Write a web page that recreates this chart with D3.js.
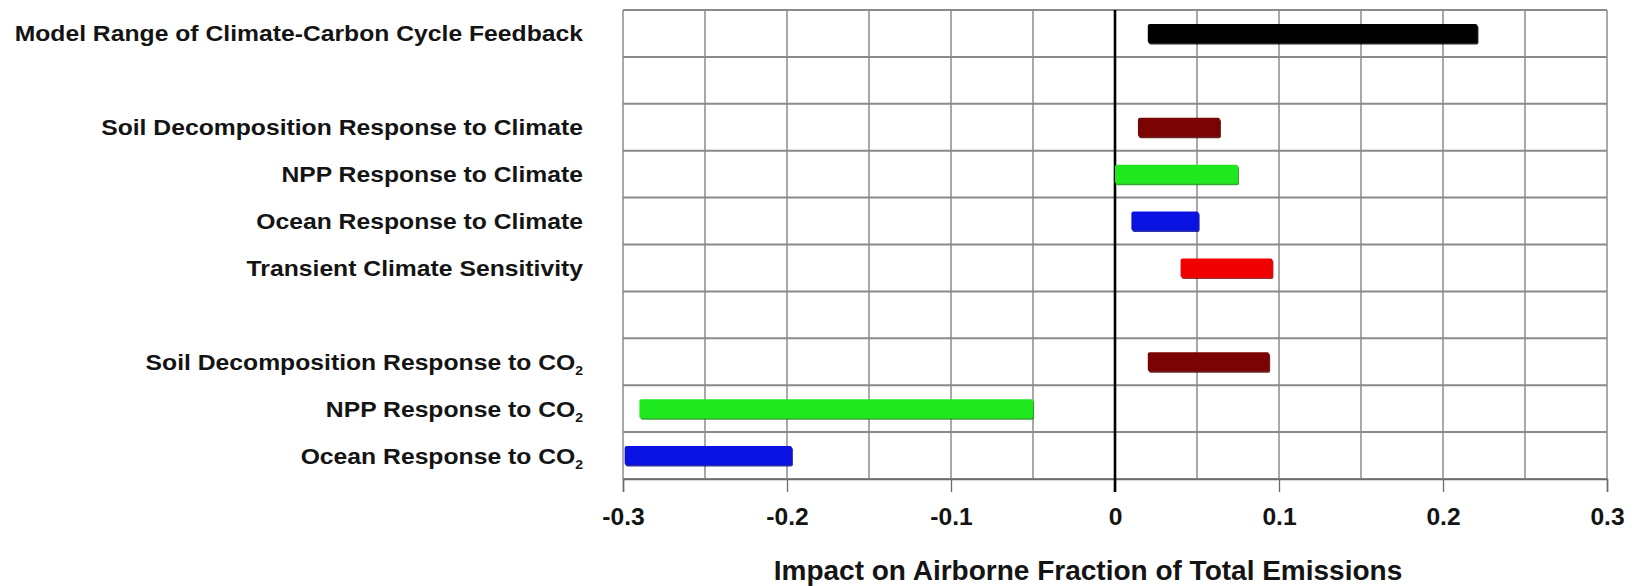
<!DOCTYPE html>
<html>
<head>
<meta charset="utf-8">
<script src="https://cdn.jsdelivr.net/npm/d3@7"></script>
<style>
  html, body { margin: 0; padding: 0; background: #fff; }
  svg { display: block; }
  text { font-family: "Liberation Sans", Arial, Helvetica, sans-serif; font-weight: bold; fill: #141414; }
</style>
</head>
<body>
<svg id="chart" width="1639" height="586"></svg>
<script>
// ---- data ----
const rowKeys = [
  "Model Range of Climate-Carbon Cycle Feedback",
  "gap1",
  "Soil Decomposition Response to Climate",
  "NPP Response to Climate",
  "Ocean Response to Climate",
  "Transient Climate Sensitivity",
  "gap2",
  "Soil Decomposition Response to CO2",
  "NPP Response to CO2",
  "Ocean Response to CO2"
];
const barCategories = [
  "Model Range of Climate-Carbon Cycle Feedback",
  "Soil Decomposition Response to Climate",
  "NPP Response to Climate",
  "Ocean Response to Climate",
  "Transient Climate Sensitivity",
  "Soil Decomposition Response to CO2",
  "NPP Response to CO2",
  "Ocean Response to CO2"
];
const lowValues  = [0.020, 0.014, 0.000, 0.010, 0.040, 0.020, -0.290, -0.299];
const highValues = [0.221, 0.064, 0.075, 0.051, 0.096, 0.094, -0.050, -0.197];
const barColors  = ["#000000", "#7a0303", "#1fe81f", "#0a12e2", "#f00000", "#7a0303", "#1fe81f", "#0a12e2"];
const tickValues = [-0.3, -0.2, -0.1, 0, 0.1, 0.2, 0.3];
const tickLabels = ["-0.3", "-0.2", "-0.1", "0", "0.1", "0.2", "0.3"];
const xTitle = "Impact on Airborne Fraction of Total Emissions";

// ---- layout ----
const svg = d3.select("#chart");
const plot = { left: 623, right: 1607, top: 10, bottom: 479 };

const x = d3.scaleLinear().domain([-0.3, 0.3]).range([plot.left, plot.right]);
const y = d3.scaleBand().domain(rowKeys).range([plot.top, plot.bottom]).paddingInner(0).paddingOuter(0);

// vertical grid lines every 0.05
const gridX = x.ticks(12);
svg.append("g").selectAll("line").data(gridX).join("line")
  .attr("x1", d => x(d)).attr("x2", d => x(d))
  .attr("y1", plot.top).attr("y2", plot.bottom)
  .attr("stroke", "#7a7a7a").attr("stroke-width", 1.3);

// horizontal grid lines at row boundaries
const rowEdges = rowKeys.map(k => y(k)).concat([plot.bottom]);
svg.append("g").selectAll("line").data(rowEdges).join("line")
  .attr("x1", plot.left).attr("x2", plot.right)
  .attr("y1", d => d).attr("y2", d => d)
  .attr("stroke", "#8a8a8a").attr("stroke-width", 2);

// bottom axis
const axis = d3.axisBottom(x)
  .tickValues(tickValues)
  .tickSize(13)
  .tickFormat((d, i) => tickLabels[i]);
const gAxis = svg.append("g").attr("transform", `translate(0,${plot.bottom})`).call(axis);
gAxis.select(".domain").attr("stroke", "#6a6a6a").attr("stroke-width", 1.5);
gAxis.selectAll(".tick line").attr("stroke", "#6a6a6a").attr("stroke-width", 1.3);
gAxis.selectAll(".tick text")
  .attr("y", 46).attr("dy", 0)
  .attr("transform", "scale(1.07,1)")
  .style("font-size", "23px")
  .style("font-family", "'Liberation Sans', Arial, sans-serif")
  .style("font-weight", "bold")
  .attr("fill", "#141414");

// zero line
svg.append("line")
  .attr("x1", x(0)).attr("x2", x(0))
  .attr("y1", plot.top).attr("y2", plot.bottom + 13)
  .attr("stroke", "#000").attr("stroke-width", 2.6);

// bars
const barH = 19;
const bars = barCategories.map((c, i) => ({ c, lo: lowValues[i], hi: highValues[i], color: barColors[i] }));
const gBars = svg.append("g");
// shadow
gBars.selectAll("rect.shadow").data(bars).join("rect")
  .attr("class", "shadow")
  .attr("x", d => x(d.lo) + 1)
  .attr("y", d => y(d.c) + y.bandwidth() / 2 - barH / 2 + 1.5)
  .attr("width", d => x(d.hi) - x(d.lo))
  .attr("height", barH)
  .attr("rx", 2)
  .attr("fill", d => d3.color(d.color).darker(1.2))
  .attr("opacity", 0.85);
gBars.selectAll("rect.bar").data(bars).join("rect")
  .attr("class", "bar")
  .attr("x", d => x(d.lo))
  .attr("y", d => y(d.c) + y.bandwidth() / 2 - barH / 2)
  .attr("width", d => x(d.hi) - x(d.lo))
  .attr("height", barH)
  .attr("rx", 2)
  .attr("fill", d => d.color);

// category labels
const labelRight = 583;
const gLab = svg.append("g");
barCategories.forEach(c => {
  const cy = y(c) + y.bandwidth() / 2;
  const g = gLab.append("g").attr("transform", `translate(${labelRight},${cy + 8}) scale(1.075,1)`);
  const t = g.append("text").attr("x", 0).attr("y", 0).attr("text-anchor", "end").style("font-size", "23px");
  if (c.endsWith("CO2")) {
    t.append("tspan").text(c.slice(0, -1));
    t.append("tspan").text("2").style("font-size", "13px").attr("dy", 5);
  } else {
    t.text(c);
  }
});

// x axis title
svg.append("text")
  .attr("x", (plot.left + plot.right) / 2 - 27)
  .attr("y", 580)
  .attr("text-anchor", "middle")
  .style("font-size", "28px")
  .text(xTitle);
</script>
</body>
</html>
